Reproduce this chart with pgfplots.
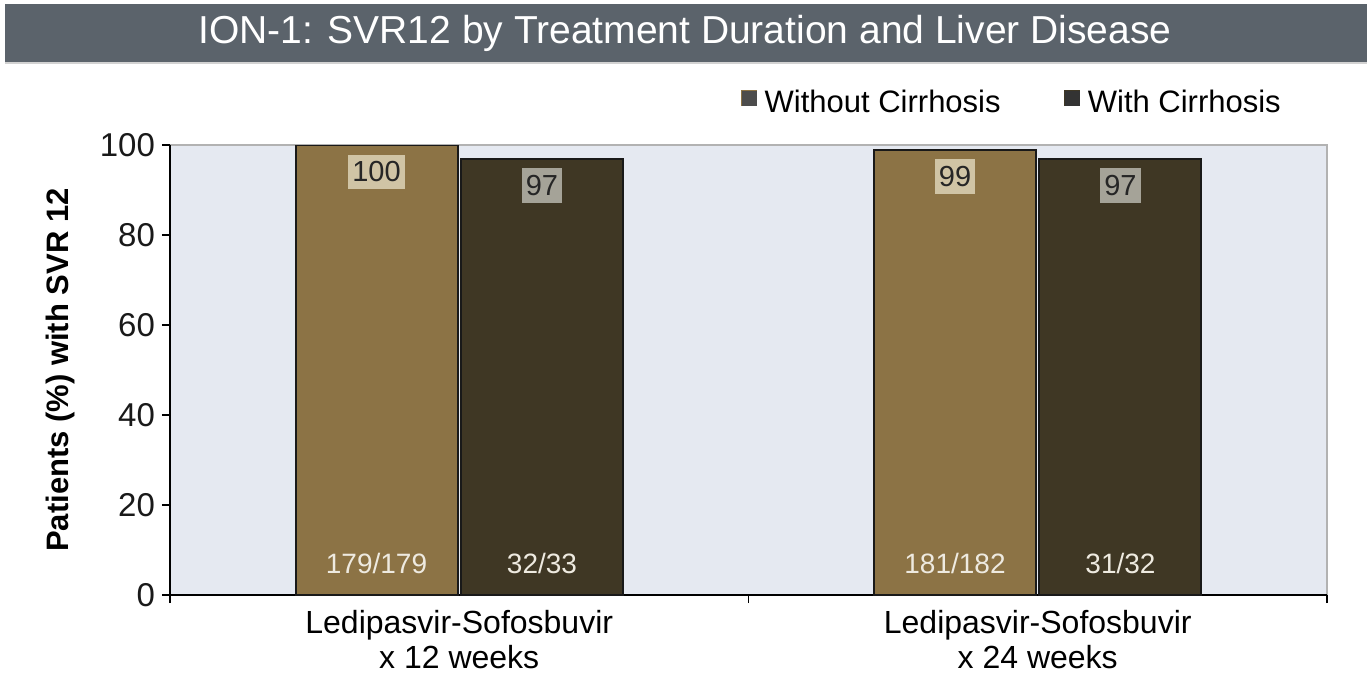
\documentclass[border=0pt]{standalone}
\usepackage{fontspec}
\setmainfont{Liberation Sans}
\usepackage{pgfplots}
\pgfplotsset{compat=1.18}
\definecolor{titlebg}{HTML}{5B636B}
\definecolor{plotbg}{HTML}{E5E9F1}
\definecolor{barA}{HTML}{8C7345}
\definecolor{barB}{HTML}{3F3724}
\definecolor{boxA}{HTML}{D0C4A5}
\definecolor{boxB}{HTML}{A5A398}
\definecolor{fractxt}{HTML}{EEEAE0}
\begin{document}
\begin{tikzpicture}[x=1pt,y=1pt]
\path (-85,-43.5) rectangle (598.5,297.5);
\fill[titlebg] (-82.5,266.5) rectangle (598.5,295.5);
\fill[gray!35] (-82.5,265.3) rectangle (598.5,266.5);
\node[text=white, font=\fontsize{19.5}{23}\selectfont] at (257.5,281) {ION-1: SVR12 by Treatment Duration and Liver Disease};
\begin{axis}[at={(0,0)}, anchor=south west, scale only axis,
  width=578.5pt, height=225pt,
  xmin=-0.5, xmax=1.5, ymin=0, ymax=100,
  axis background/.style={fill=plotbg, draw=gray!60, line width=0.6pt},
  axis lines*=left, axis line style={black, line width=1pt},
  ytick={0,20,40,60,80,100}, tick align=outside, major tick length=4pt,
  tick style={black, line width=0.8pt},
  /pgf/number format/assume math mode=true,
  yticklabel style={font=\fontsize{16.5}{19}\selectfont, text=black!90},
  xtick={-0.5,0.5,1.5}, xticklabels={},
  extra x ticks={0,1},
  extra x tick labels={{Ledipasvir-Sofosbuvir\\x 12 weeks},{Ledipasvir-Sofosbuvir\\x 24 weeks}},
  extra x tick style={major tick length=0pt,
    tick label style={align=center, font=\fontsize{16}{17.5}\selectfont, yshift=-4pt}},
  ylabel={\textbf{Patients (\%) with SVR 12}},
  every axis y label/.style={at={(axis description cs:0,0.5)}, xshift=-55pt, rotate=90, anchor=center,
    font=\fontsize{15.5}{18}\selectfont},
  legend style={at={(0.9635,1.093)}, anchor=east, draw=none, fill=none, legend columns=2,
    font=\fontsize{15.5}{18}\selectfont, inner sep=0pt,
    nodes={inner sep=1.8pt},
    /tikz/every even column/.append style={column sep=30pt}},
  legend cell align=left,
]
\addplot[ybar, bar width=0.28, bar shift=-0.143, fill=barA, draw=black!90, line width=1pt,
  legend image code/.code={\fill[barA] (0pt,-1pt) rectangle (7pt,6pt); \draw[black!70, line width=0.5pt] (0pt,-1pt) rectangle (7pt,6pt);}]
  coordinates {(0,100) (1,99)};
\addlegendentry{\hspace{2pt}Without Cirrhosis}
\addplot[ybar, bar width=0.28, bar shift=0.143, fill=barB, draw=black!90, line width=1pt,
  legend image code/.code={\fill[barB] (0pt,-1pt) rectangle (7pt,6pt); \draw[black!80, line width=0.5pt] (0pt,-1pt) rectangle (7pt,6pt);}]
  coordinates {(0,97) (1,97)};
\addlegendentry{\hspace{2pt}With Cirrhosis}
% value labels
\addplot[forget plot, only marks, mark=none, nodes near coords, point meta=explicit symbolic,
  every node near coord/.append style={anchor=center, yshift=-13.5pt, fill=boxA, text=black!85,
    font=\fontsize{14.5}{17}\selectfont, inner xsep=2pt, inner ysep=3.5pt}]
  coordinates {(-0.143,100) [100] (0.857,99) [99]};
\addplot[forget plot, only marks, mark=none, nodes near coords, point meta=explicit symbolic,
  every node near coord/.append style={anchor=center, yshift=-13.5pt, fill=boxB, text=black!85,
    font=\fontsize{14.5}{17}\selectfont, inner xsep=2pt, inner ysep=3.5pt}]
  coordinates {(0.143,97) [97] (1.143,97) [97]};
\addplot[forget plot, only marks, mark=none, nodes near coords, point meta=explicit symbolic,
  every node near coord/.append style={anchor=center, text=fractxt, font=\fontsize{14}{17}\selectfont}]
  coordinates {(-0.143,7.1) [179/179] (0.143,7.1) [32/33] (0.857,7.1) [181/182] (1.143,7.1) [31/32]};
\end{axis}
\end{tikzpicture}
\end{document}
